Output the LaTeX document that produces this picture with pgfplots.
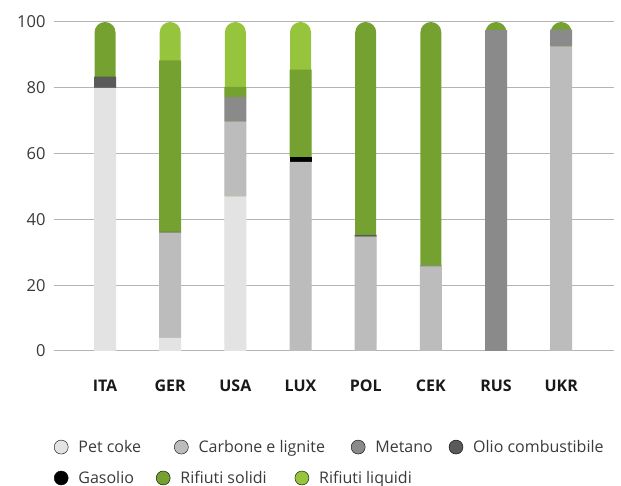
\documentclass[border=0pt]{standalone}
\usepackage{fontspec}
\setmainfont{Open Sans}
\usepackage{pgfplots}
\usepackage{pgfplotstable}
\pgfplotsset{compat=1.18}

\definecolor{petcoke}{HTML}{E3E3E3}
\definecolor{carbone}{HTML}{BCBCBC}
\definecolor{metano}{HTML}{8A8A8A}
\definecolor{olio}{HTML}{5A5A5A}
\definecolor{gasolio}{HTML}{000000}
\definecolor{solidi}{HTML}{75A131}
\definecolor{liquidi}{HTML}{96C43C}
\definecolor{gridgray}{HTML}{B4B4B4}
\definecolor{labelgray}{HTML}{3A3A3A}

% share (%) of each fuel, bottom to top; the last segment of each bar is the cap
\pgfplotstableread{
x pet  carb  met  olio gas  sol
0 80   0     0    3.4  0    0
1 4    32    0    0.3  0    52
2 47   22.7  7.5  0    0    3.1
3 0    57.5  0    0    1.4  26.6
4 0    34.8  0    0.5  0    0
5 0    25.7  0.3  0    0    0
6 0    0     97.5 0    0    0
7 0    92.6  5.1  0    0    0
}\fuels

\pgfplotsset{
  frame/.style={
    at={(54pt,135pt)}, anchor=south west, scale only axis,
    width=560pt, height=329pt,
    xmin=-0.783, xmax=7.81, ymin=0, ymax=100,
    axis line style={draw=none}, tick style={draw=none},
  },
  dot legend/.style={
    hide axis,
    legend image code/.code={\fill[##1] (7pt,0pt) circle (7pt);},
    legend style={draw=none, fill=none, inner sep=0pt, outer sep=0pt,
      nodes={inner sep=0pt},
      font=\fontsize{16}{19}\selectfont, text=labelgray,
      legend columns=-1, anchor=west,
      cells={anchor=west},
      /tikz/every odd column/.append style={column sep=10pt}},
  },
}

\begin{document}
\begin{tikzpicture}
\useasboundingbox (0,0) rectangle (621pt,486pt);

% grid, labels and the rounded caps
\begin{axis}[frame,
  ybar, bar width=21pt, bar shift=0pt,
  ymajorgrids, grid style={gridgray, line width=1pt},
  ytick={0,20,...,100},
  xtick={0,...,7},
  xticklabels={ITA,GER,USA,LUX,POL,CEK,RUS,UKR},
  xticklabel style={font=\fontsize{16}{19}\selectfont\bfseries, text=black!90, yshift=-21pt},
  yticklabel style={font=\fontsize{16.5}{19}\selectfont, text=labelgray, xshift=-5pt},
  /pgf/number format/assume math mode=true,
]
\addplot[fill=solidi, draw=none, rounded corners=10.5pt]
  coordinates {(0,100) (4,100) (5,100) (6,100) (7,100)};
\addplot[fill=liquidi, draw=none, rounded corners=10.5pt]
  coordinates {(1,100) (2,100) (3,100)};
\end{axis}

% stacked segments below the cap
\begin{axis}[frame, ybar stacked, bar width=22pt,
  xtick=\empty, ytick=\empty]
\addplot[fill=petcoke, draw=none] table[x=x, y=pet] {\fuels};
\addplot[fill=carbone, draw=none] table[x=x, y=carb] {\fuels};
\addplot[fill=metano, draw=none] table[x=x, y=met] {\fuels};
\addplot[fill=olio, draw=none] table[x=x, y=olio] {\fuels};
\addplot[fill=gasolio, draw=none] table[x=x, y=gas] {\fuels};
\addplot[fill=solidi, draw=none] table[x=x, y=sol] {\fuels};
\end{axis}

% legend, first row
\begin{axis}[frame, dot legend,
  legend style={at={(0.0,-0.292)},
    /tikz/column 2/.append style={column sep=33pt},
    /tikz/column 4/.append style={column sep=26pt},
    /tikz/column 6/.append style={column sep=16pt}}]
\addlegendimage{fill=petcoke}
\addlegendentry{Pet coke}
\addlegendimage{fill=carbone}
\addlegendentry{Carbone e lignite}
\addlegendimage{fill=metano}
\addlegendentry{Metano}
\addlegendimage{fill=olio}
\addlegendentry{Olio combustibile}
\end{axis}

% legend, second row
\begin{axis}[frame, dot legend,
  legend style={at={(0.0,-0.386)},
    /tikz/column 2/.append style={column sep=22pt},
    /tikz/column 4/.append style={column sep=28pt}}]
\addlegendimage{fill=gasolio}
\addlegendentry{Gasolio}
\addlegendimage{fill=solidi}
\addlegendentry{Rifiuti solidi}
\addlegendimage{fill=liquidi}
\addlegendentry{Rifiuti liquidi}
\end{axis}
\end{tikzpicture}
\end{document}
